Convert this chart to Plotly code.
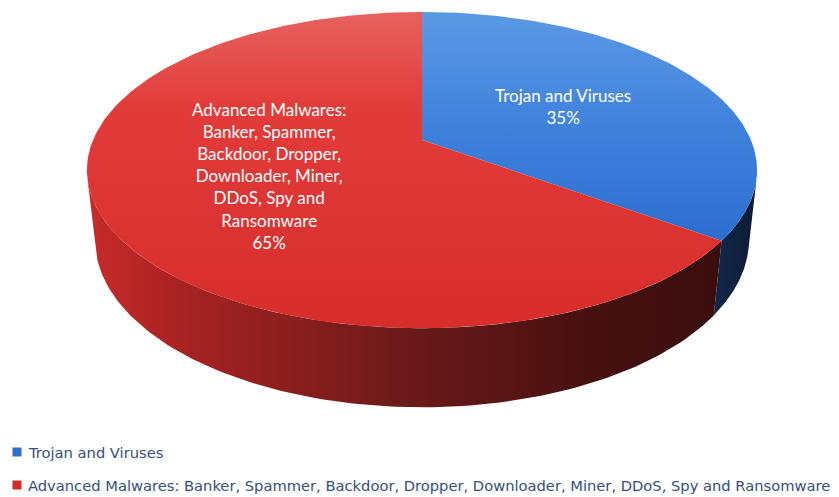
import numpy as np
import plotly.graph_objects as go

# ---- data -------------------------------------------------------------
categories = [
    "Trojan and Viruses",
    "Advanced Malwares: Banker, Spammer, Backdoor, Dropper, Downloader, Miner, DDoS, Spy and Ransomware",
]
slice_labels = [
    "Trojan and Viruses",
    "Advanced Malwares:<br>Banker, Spammer,<br>Backdoor, Dropper,<br>Downloader, Miner,<br>DDoS, Spy and<br>Ransomware",
]
values = [35, 65]

# ---- styling ------------------------------------------------------------
top_scales = [
    [[0, "#5c99e4"], [0.5, "#3f82dc"], [1, "#2c6ed0"]],
    [[0, "#e6625f"], [0.3, "#e23c3a"], [1, "#d72d2b"]],
]
side_scales = [
    [[0, "#12284a"], [1, "#0b1b34"]],
    [[0, "#c62b2a"], [0.15, "#a82222"], [0.5, "#6c1a1a"], [0.8, "#46100f"], [1, "#3a0d0d"]],
]
legend_colors = ["#2f6dcc", "#d42b29"]
label_font = "Lato"
legend_font = "DejaVu Sans"
legend_text_color = "#34507e"

W, H = 839, 497

# ---- perspective projection of a flat cylinder (pixel space) -------------
CX, CY = 422, 140          # projected centre of the top face
PHI = np.radians(27.6)     # camera elevation
DIST = 4.663               # camera distance (in pie radii)
FOCAL = 1534               # px
DEPTH = 0.2416             # thickness of the pie (in pie radii)


def project(theta_deg, r=1.0, y=0.0):
    th = np.radians(theta_deg)
    X = r * np.sin(th)
    Z = r * np.cos(th)
    depth = -y * np.sin(PHI) + Z * np.cos(PHI) + DIST
    up = y * np.cos(PHI) + Z * np.sin(PHI)
    return CX + FOCAL * X / depth, CY - FOCAL * up / depth


# angles where the side wall turns away from the viewer
sil = np.degrees(np.arccos(-1.0 / (DIST * np.cos(PHI))))
vis_lo, vis_hi = sil, 360 - sil

total = sum(values)
bounds = np.concatenate([[0], np.cumsum(values) / total * 360])

fig = go.Figure()

# side walls
for i in range(len(values)):
    a0, a1 = max(bounds[i], vis_lo), min(bounds[i + 1], vis_hi)
    if a1 <= a0:
        continue
    th = np.linspace(a0, a1, 120)
    tx, ty = project(th)
    bx, by = project(th[::-1], y=-DEPTH)
    xs = np.concatenate([tx, bx, tx[:1]])
    ys = np.concatenate([ty, by, ty[:1]])
    fig.add_trace(go.Scatter(
        x=xs, y=ys, mode="lines", fill="toself", line=dict(width=0),
        fillgradient=dict(type="horizontal", colorscale=side_scales[i],
                          start=float(xs.min()), stop=float(xs.max())),
        hoverinfo="skip", showlegend=False,
    ))

# top faces
for i in range(len(values)):
    th = np.linspace(bounds[i], bounds[i + 1], 200)
    ax, ay = project(th)
    xs = np.concatenate([[CX], ax, [CX]])
    ys = np.concatenate([[CY], ay, [CY]])
    fig.add_trace(go.Scatter(
        x=xs, y=ys, mode="lines", fill="toself", line=dict(width=0),
        fillgradient=dict(type="vertical", colorscale=top_scales[i],
                          start=float(ys.min()), stop=float(ys.max())),
        hoverinfo="skip", showlegend=False,
    ))

# slice labels at half radius on each slice's middle angle
for i in range(len(values)):
    mid = (bounds[i] + bounds[i + 1]) / 2
    lx, ly = project(mid, r=0.5)
    fig.add_annotation(
        x=lx, y=ly, xref="x", yref="y", showarrow=False,
        text=f"{slice_labels[i]}<br>{values[i] / total * 100:.0f}%",
        font=dict(family=label_font, size=17, color="white"),
        align="center", xanchor="center", yanchor="middle",
    )

# legend
legend_rows = [452, 485]
fig.add_trace(go.Scatter(
    x=[17, 17], y=legend_rows, mode="markers",
    marker=dict(symbol="square", size=9, color=legend_colors, line=dict(width=0)),
    hoverinfo="skip", showlegend=False,
))
for name, yrow in zip(categories, legend_rows):
    fig.add_annotation(
        x=26, y=yrow, xref="x", yref="y", showarrow=False, text=name,
        font=dict(family=legend_font, size=14.7, color=legend_text_color),
        xanchor="left", yanchor="middle",
    )

fig.update_layout(
    width=W, height=H,
    margin=dict(l=0, r=0, t=0, b=0),
    paper_bgcolor="white", plot_bgcolor="white",
    xaxis=dict(range=[0, W], visible=False, fixedrange=True),
    yaxis=dict(range=[H, 0], visible=False, fixedrange=True),
    showlegend=False,
)

fig.write_html("out.html")
